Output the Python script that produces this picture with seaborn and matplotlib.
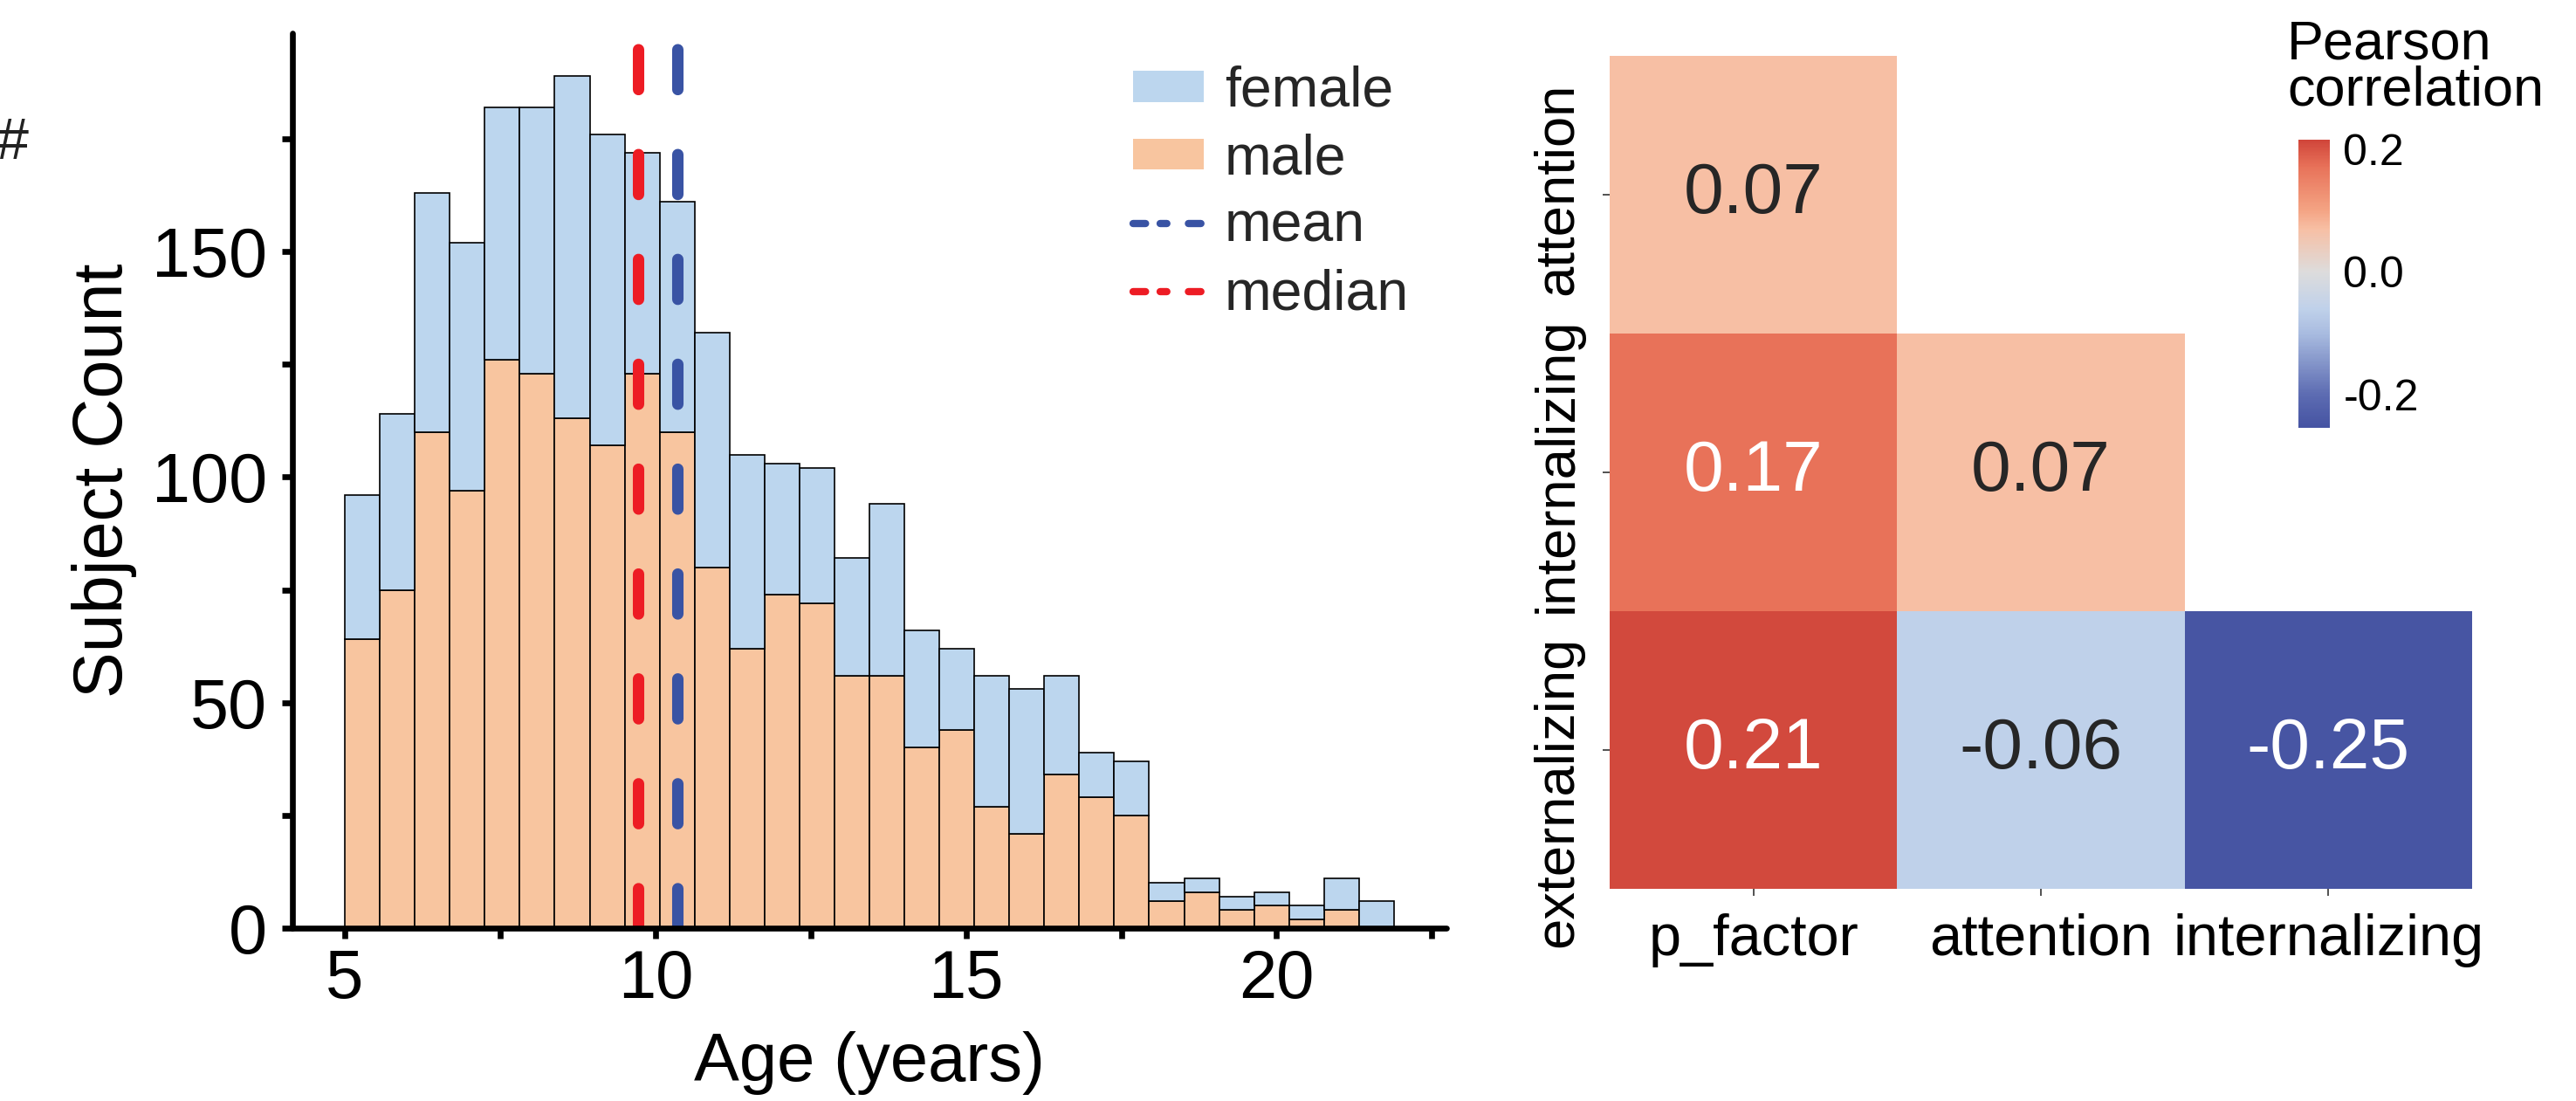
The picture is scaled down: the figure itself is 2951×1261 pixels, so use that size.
import numpy as np
import pandas as pd
import matplotlib
matplotlib.use("Agg")
import matplotlib.pyplot as plt
from matplotlib.ticker import MultipleLocator, FixedLocator
from matplotlib.colors import LinearSegmentedColormap
from matplotlib.patches import Patch
from matplotlib.lines import Line2D
import seaborn as sns

sns.set_theme(style="ticks")
plt.rcParams['font.family'] = ['Liberation Sans', 'DejaVu Sans']
plt.rcParams['axes.unicode_minus'] = False

####### DATA ######################################

# age histogram (30 bins between min and max age)
age_min, age_max, n_bins = 5.0, 21.89, 30
female_counts = [32, 39, 53, 55, 56, 59, 76, 69, 49, 51,
                 52, 43, 29, 30, 26, 38, 26, 18, 29, 32,
                 22, 10, 12, 4, 3, 3, 3, 3, 7, 6]
male_counts = [64, 75, 110, 97, 126, 123, 113, 107, 123, 110,
               80, 62, 74, 72, 56, 56, 40, 44, 27, 21,
               34, 29, 25, 6, 8, 4, 5, 2, 4, 0]
age_mean = 10.35
age_median = 9.72

# correlation between factors (lower triangle)
row_names = ['attention', 'internalizing', 'externalizing']
col_names = ['p_factor', 'attention', 'internalizing']
corr_attention = [0.07, np.nan, np.nan]
corr_internalizing = [0.17, 0.07, np.nan]
corr_externalizing = [0.21, -0.06, -0.25]

####### STYLE ######################################
female_col = '#BCD6EE'
male_col = '#F8C59F'
mean_col = '#3953A4'
median_col = '#ED1C24'

vmin, vmax = -0.254, 0.215
# colour anchors (value, colour) for the correlation map
cmap_anchors = [(-0.254, '#4553a2'), (-0.2, '#5d6cb2'), (-0.1, '#a9bce0'),
                (-0.06, '#c0d1ea'), (0.0, '#dddcdc'), (0.07, '#f7bfa4'),
                (0.1, '#f4a484'), (0.17, '#e8735a'), (0.215, '#d0453a')]
# the row labels of the map are not exactly centred on their rows (pixels, + = down)
ylabel_shift_px = [-7, -8, 48]

W, H, DPI = 2951, 1261, 200
fig = plt.figure(figsize=(W / DPI, H / DPI), dpi=DPI)

def px_axes(left, top, right, bottom):
    return fig.add_axes([left / W, 1 - bottom / H, (right - left) / W, (bottom - top) / H])

ax1 = px_axes(335, 38, 1657, 1063)
ax2 = px_axes(1844, 64, 2832, 1018)
cax = px_axes(2633, 160, 2669, 490)

# ---------------- histogram ----------------
width = (age_max - age_min) / n_bins
centers = age_min + width * (np.arange(n_bins) + 0.5)
hist_df = pd.DataFrame({
    'age': np.concatenate([centers, centers]),
    'count': female_counts + male_counts,
    'sex': ['female'] * n_bins + ['male'] * n_bins,
})
sns.histplot(data=hist_df, x='age', weights='count', hue='sex',
             bins=n_bins, binrange=(age_min, age_max),
             multiple='stack', hue_order=['female', 'male'],
             palette={'female': female_col, 'male': male_col},
             alpha=1, edgecolor='black', linewidth=0.6, legend=False, ax=ax1)

dash = (0, (3.5, 5.7))
ax1.axvline(age_mean, color=mean_col, lw=4.7, ls=dash, dash_capstyle='round')
ax1.axvline(age_median, color=median_col, lw=4.7, ls=dash, dash_capstyle='round')

ax1.xaxis.set_major_locator(MultipleLocator(5))
ax1.xaxis.set_minor_locator(MultipleLocator(2.5))
ax1.yaxis.set_major_locator(MultipleLocator(50))
ax1.yaxis.set_minor_locator(MultipleLocator(25))
for which in ['major', 'minor']:
    ax1.tick_params(axis='both', which=which, direction='out', length=4.3,
                    width=2.4, color='black')
ax1.tick_params(axis='y', labelsize=28.5, pad=6, labelcolor='black')
ax1.tick_params(axis='x', labelsize=28, pad=4, labelcolor='black')
ax1.set_xlabel('Age (years)', fontsize=28, color='black', labelpad=8)
ax1.set_ylabel('Subject Count', fontsize=28.5, color='black', labelpad=6)
sns.despine(ax=ax1)
for s in ['left', 'bottom']:
    ax1.spines[s].set_linewidth(2.4)
    ax1.spines[s].set_color('black')
    ax1.spines[s].set_capstyle('round')

leg_dash = (0, (1.72, 2.0, 0.93, 2.96))
handles = [
    Patch(facecolor=female_col, edgecolor='none', label='female'),
    Patch(facecolor=male_col, edgecolor='none', label='male'),
    Line2D([], [], color=mean_col, lw=3.0, ls=leg_dash,
           dash_capstyle='round', label='mean'),
    Line2D([], [], color=median_col, lw=3.0, ls=leg_dash,
           dash_capstyle='round', label='median'),
]
fig.legend(handles=handles, loc='upper left', bbox_to_anchor=(1298 / W, 1 - 75 / H),
           frameon=False, fontsize=23.2, handlelength=1.25, handleheight=0.48,
           handletextpad=0.38, labelspacing=0.27, borderpad=0, borderaxespad=0)

# ---------------- correlation heatmap ----------------
corr = pd.DataFrame([corr_attention, corr_internalizing, corr_externalizing],
                    index=row_names, columns=col_names)
cmap = LinearSegmentedColormap.from_list(
    'pearson', [((v - vmin) / (vmax - vmin), c) for v, c in cmap_anchors])

sns.heatmap(corr, ax=ax2, cbar_ax=cax, cmap=cmap, vmin=vmin, vmax=vmax,
            annot=True, fmt='.2f', annot_kws={'fontsize': 29.5})
ax2.set_xticklabels(col_names, rotation=0, fontsize=24, color='black')
ax2.set_yticklabels([])
ax2.tick_params(axis='both', length=3, width=0.6, color='#333333', pad=7)
row_h = 954  # heatmap height in px
for i, name in enumerate(row_names):
    ax2.text(-30 / 988, i + 0.5 + ylabel_shift_px[i] * 3 / row_h, name,
             rotation=90, ha='right', va='center', fontsize=22.8, color='black',
             transform=ax2.get_yaxis_transform())

cbar = ax2.collections[0].colorbar
cbar.outline.set_visible(False)
cax.yaxis.set_major_locator(FixedLocator([-0.2, 0.0, 0.2]))
cax.yaxis.set_minor_locator(FixedLocator([-0.1, 0.1]))
cax.set_yticklabels(['-0.2', '0.0', '0.2'])
cax.tick_params(which='both', direction='in', length=2.5, width=0.6,
                color='#333333', labelsize=18, pad=5.5, labelcolor='black')
fig.text(2620 / W, 1 - 22 / H, 'Pearson\ncorrelation', ha='left', va='top',
         fontsize=22.7, linespacing=0.85, color='black')

# stray mark at the left edge
fig.text(14 / W, 1 - 165 / H, '#', ha='center', va='center', fontsize=24, color='#222222')

fig.savefig('out.png', dpi=DPI)
